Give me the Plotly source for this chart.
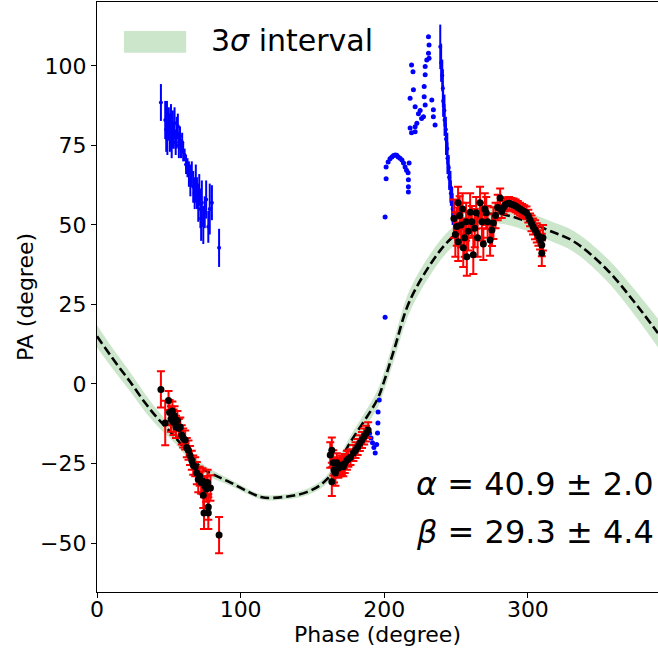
import plotly.graph_objects as go

FONT = "DejaVu Sans"

# RVM fit curve and its 3 sigma band
curve_x = [0, 12.7, 23.2, 33.6, 42, 55, 72, 93, 114, 123, 146, 160, 177.5, 195, 200, 207, 218,
           239, 253, 262, 274, 286, 300, 315, 332, 355, 373, 390.6]
curve_y = [15, 6.9, 0.6, -6, -10.7, -17, -26, -31, -35.5, -35.8, -34, -30, -17.5, -5, 1, 11, 26.4,
           42, 48.5, 52, 53.5, 53, 51, 48.2, 44.8, 36, 26.4, 16]
band_hw = [3.5, 3.2, 3, 2.8, 2.5, 2, 1.5, 1, 0.8, 0.8, 1, 1.3, 2, 2.8, 3, 3.3, 3.5,
           3.2, 3, 3, 3, 3, 3, 3.1, 3.3, 3.6, 4, 4.5]

# blue points with error bars (other mode)
blue_x = [44.5, 48.7, 47.5, 48.2, 49, 50, 50.8, 51.5, 52, 52.8, 53.5, 54, 54.8, 55.5, 56.3, 57,
          57.8, 58.5, 59.3, 60, 61, 62, 63, 64, 65, 66, 67, 68, 68.8, 69.6, 70.5, 71.2, 72, 72.5,
          73, 74, 75, 76, 77.5, 78.5, 80, 85,
          239, 239.6, 240.4, 240.8, 241, 241.9, 242, 242.9, 243, 243.9, 244, 244.9, 245.2, 246.1,
          246.4, 247.3, 247.6, 248.6, 248.8, 249.6]
blue_y = [88.5, 85, 83, 80, 77, 82, 79, 84, 76, 80, 78, 82, 76, 79, 81, 75,
          78, 74, 76, 73, 72, 69, 68, 66, 64, 66, 62, 60, 63, 60, 57, 61, 55, 52,
          57, 50, 54, 58, 49.4, 55, 57, 42.8,
          106, 101, 97, 93, 89, 86, 83, 80, 77, 74, 71, 68, 65, 62,
          60, 57, 55, 53, 51, 49]
blue_err = [5.8, 4, 6, 7, 5, 5, 6, 4, 5, 6, 4, 5, 4, 5, 4, 4,
            3, 3, 3, 3, 2, 3, 3, 4, 5, 4, 5, 5, 6, 5, 6, 5, 6, 7,
            7, 6, 5, 6, 5, 8, 5.5, 6,
            7, 6, 5, 6, 5, 5, 5, 4, 5, 5, 5, 4, 4, 5,
            4, 5, 5, 4, 4, 4]

# blue points without visible errors
dots_x = [188.8, 189.8, 190.8, 191.8, 192.8, 193.7, 194.7, 195.3, 195.6, 195.7, 196.5,
          200.6, 200.6, 201.3,
          201.3, 202.7, 204, 205.3, 206.5, 207.6, 208.7, 209.7, 211, 212.3, 213.4, 214.5, 215.5,
          216.6, 216.8, 216.8, 216.8, 217.3,
          219, 220, 218, 220.3, 221.5, 223.8, 225, 226, 227.3, 221.5, 221.5, 222.7, 218, 219,
          228.5, 228.5, 227.8, 227.8, 228.5, 230.8, 231.2, 230.8, 231.2, 229.6,
          233.1, 234.2, 234.2, 235.4]
dots_y = [-14.5, -15.5, -17, -18.5, -20, -21.7, -19, -15.4, -12.3, -8.8, -5,
          21, 52.5, 64.5,
          68.2, 69.8, 70.8, 71.4, 71.8, 72, 71.9, 71.4, 71, 70.4, 69.5, 68.2, 67.2,
          66.4, 64.2, 62, 60.4, 69.5,
          100.3, 98.2, 89.8, 92.5, 87.2, 85, 86, 83.5, 84, 80.9, 79.3, 82, 80.5, 79,
          99.8, 97.2, 93.5, 90.3, 87.7, 109.2, 106.6, 104, 102.4, 101.9,
          89.3, 86.2, 84, 81.4]

# black points with red error bars
red_x = [44.5, 49.8, 47.5, 50.5, 51.5, 52.5, 53.3, 54, 55, 56, 57, 58, 59, 60, 61.4, 62.5, 63.7,
         64.8, 66, 67, 68.4, 69.5, 70.5, 71.5, 72.5, 73.5, 74, 75, 76, 77, 77.5, 74.5, 77.5, 79, 85,
         162.4, 163.5, 164.5, 163.5, 165, 166, 167, 168, 169.3, 170.5, 171.5, 172.5, 174, 175,
         176.5, 178.5, 180, 181.5, 183, 184.5, 186, 187.3, 188.8,
         248.5, 249.5, 250.5, 251.4, 251.5, 252.5, 253.5, 254.5, 255, 256, 257, 257.5, 258.5,
         259.8, 261, 262, 263, 264, 265, 266.7, 268, 269, 270, 271, 272, 273.7, 275, 276, 277.5,
         279, 280.7, 281.8, 283, 284, 285.5, 287, 288.5, 290, 291.5, 293, 294.5, 296, 297.5, 299,
         300.3, 301.5, 302.5, 303.6, 305, 306.2, 307.3, 308.5, 309.7, 309.7, 310.5]
red_y = [-1.7, -5.2, -12.3, -9, -11, -8.5, -12, -10, -13.5, -11.5, -14, -13.5, -16, -17, -17.6,
         -20, -20.8, -22.5, -24, -25.5, -26, -28, -30, -29, -31, -30.5, -35, -32, -33, -31, -38.7,
         -40.6, -40.6, -32.7, -47.5,
         -22.3, -20.8, -24.8, -30.7, -27, -28, -24.8, -26.5, -26, -25.5, -26, -25, -24, -23.5,
         -23, -21.7, -20.8, -19.8, -18.6, -17.6, -16.5, -15.6, -14.5,
         52, 47, 49.5, 57, 44.7, 53, 50, 55, 42.8, 46, 51, 40, 48,
         54, 51, 40.6, 49, 53.8, 46, 57, 51, 44, 55, 53.8, 51, 45.3, 48.4, 50.6, 53,
         55.5, 58.5, 54.2, 55.5, 56.3, 56.7, 56.8, 56.5, 56.3, 56, 55.5, 55, 54.6, 54.2, 53.8,
         52.8, 51.6, 50.5, 49.5, 48.5, 47.5, 46.5, 45.3, 43.7, 41.1, 46]
red_err = [5.7, 3, 7, 4, 4, 3, 4, 3, 3.5, 3, 3, 3, 3, 3, 3, 3, 3,
           3, 3, 3, 3, 3.5, 4, 3, 3.5, 4, 4, 3, 4, 4, 4, 5, 5, 4, 5.7,
           4, 4, 4, 4.5, 4, 4, 3, 3, 3, 3, 3, 3, 3, 2.5,
           2.5, 2.5, 2.5, 2.5, 2.5, 2.5, 2.5, 2.5, 2.5,
           6, 7, 6, 5, 6, 6, 7, 5, 6, 6, 6, 6, 6,
           6, 5, 6, 6, 5, 6, 5, 6, 5, 5, 5, 5, 5, 5, 5, 4,
           4, 3, 2, 2, 2, 2, 2, 2, 2, 2, 2, 2, 2, 2, 2,
           2, 2, 2.5, 2.5, 3, 3, 3, 3, 3.5, 4, 4]

band_lo = [y - w for y, w in zip(curve_y, band_hw)]
band_hi = [y + w for y, w in zip(curve_y, band_hw)]

fig = go.Figure()
fig.add_trace(go.Scatter(x=curve_x, y=band_lo, mode="lines", line=dict(width=0, shape="spline"),
                         hoverinfo="skip", showlegend=False))
fig.add_trace(go.Scatter(x=curve_x, y=band_hi, mode="lines", line=dict(width=0, shape="spline"),
                         fill="tonexty", fillcolor="rgba(0,128,0,0.2)", showlegend=False))
fig.add_trace(go.Scatter(x=curve_x, y=curve_y, mode="lines",
                         line=dict(color="black", width=2.6, dash="9px,4px", shape="spline"),
                         showlegend=False))
fig.add_trace(go.Scatter(x=blue_x, y=blue_y, mode="markers",
                         marker=dict(color="blue", size=4),
                         error_y=dict(type="data", array=blue_err, color="blue", thickness=2, width=0),
                         showlegend=False))
fig.add_trace(go.Scatter(x=dots_x, y=dots_y, mode="markers",
                         marker=dict(color="blue", size=5), showlegend=False))
fig.add_trace(go.Scatter(x=red_x, y=red_y, mode="markers",
                         marker=dict(color="black", size=7),
                         error_y=dict(type="data", array=red_err, color="red", thickness=2, width=4),
                         showlegend=False))

# legend drawn by hand (wide patch like matplotlib)
fig.add_shape(type="rect", xref="paper", yref="paper", x0=0.048, x1=0.159, y0=0.914, y1=0.951,
              fillcolor="rgba(0,128,0,0.2)", line=dict(width=0))
fig.add_annotation(x=0.2, y=0.934, xref="paper", yref="paper", xanchor="left", yanchor="middle",
                   text="3<i>σ</i> interval", showarrow=False, font=dict(size=30, color="black"))
fig.add_annotation(x=0.996, y=0.183, xref="paper", yref="paper", xanchor="right", yanchor="middle",
                   text="<i>α</i> = 40.9 ± 2.0", showarrow=False, font=dict(size=32, color="black"))
fig.add_annotation(x=0.996, y=0.102, xref="paper", yref="paper", xanchor="right", yanchor="middle",
                   text="<i>β</i> = 29.3 ± 4.4", showarrow=False, font=dict(size=32, color="black"))

fig.update_xaxes(range=[0, 390.6], tickvals=[0, 100, 200, 300], ticks="outside", ticklen=5,
                 tickwidth=1.3, tickcolor="black", showline=True, linecolor="black", linewidth=1.3,
                 mirror=True, showgrid=False, zeroline=False, automargin=False,
                 ticklabelstandoff=-8,
                 title=dict(text="Phase (degree)", font=dict(size=22), standoff=3),
                 tickfont=dict(size=22))
fig.update_yaxes(range=[-65.4, 120.1], tickvals=[-50, -25, 0, 25, 50, 75, 100],
                 ticktext=["−50", "−25", "0", "25", "50", "75", "100"], ticks="outside", ticklen=5,
                 tickwidth=1.3, tickcolor="black", showline=True, linecolor="black", linewidth=1.3,
                 showgrid=False, zeroline=False, automargin=False,
                 title=dict(text="PA (degree)", font=dict(size=22), standoff=0),
                 tickfont=dict(size=22))
fig.update_layout(width=658, height=658, margin=dict(l=97, r=0, t=2, b=66, autoexpand=False),
                  plot_bgcolor="white", paper_bgcolor="white",
                  font=dict(family=FONT, color="black"))

# drop the default 8px page margin so the figure sits at the window corner
fig.write_html("out.html", config={"displayModeBar": False},
               post_script="document.body.style.margin='0px';")
